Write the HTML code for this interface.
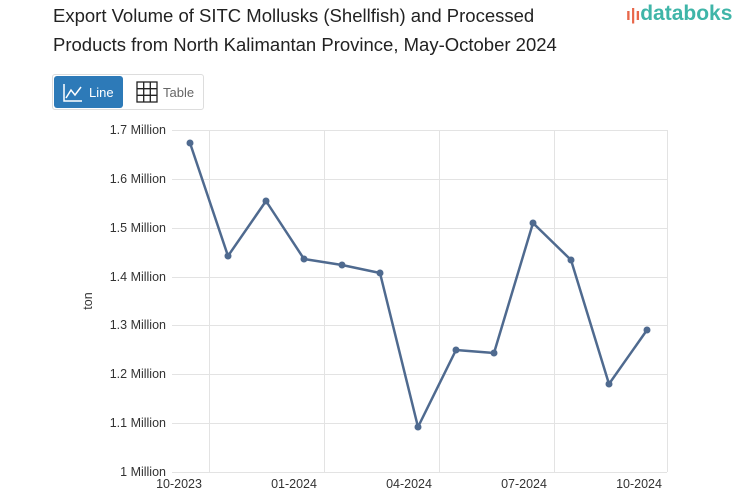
<!DOCTYPE html>
<html><head><meta charset="utf-8"><style>
body{margin:0;width:753px;height:498px;background:#fff;font-family:"Liberation Sans",sans-serif;overflow:hidden;position:relative}
.t{position:absolute;left:53px;top:1px;font-size:18.5px;line-height:29px;color:#222}
.logo{position:absolute;left:626px;top:2px;font-size:21px;color:#3fb5a8;font-weight:bold}
.btns{position:absolute;left:52px;top:74px;width:150px;height:34px;border:1px solid #ddd;border-radius:3px}
.b1{position:absolute;left:1px;top:1px;width:69px;height:32px;background:#2d7ab8;border-radius:3px;color:#fff;font-size:13px}
.b2{position:absolute;left:80px;top:1px;font-size:13px;color:#666}
</style></head><body>
<div class="t">Export Volume of SITC Mollusks (Shellfish) and Processed<br>Products from North Kalimantan Province, May-October 2024</div>
<div class="logo"><span style="color:#e8674a;font-size:17px">ı|ı</span>databoks</div>
<div class="btns">
<div class="b1"><svg width="69" height="32"><path d="M10 8V25H28" stroke="#fff" fill="none" stroke-width="1.5"/><path d="M12 22L17 14L21 19L27 11" stroke="#fff" fill="none" stroke-width="1.5"/><text x="35" y="21" fill="#fff" font-size="13" font-family="Liberation Sans">Line</text></svg></div>
<div class="b2"><svg width="70" height="32"><rect x="4" y="6" width="20" height="20" fill="none" stroke="#222" stroke-width="1.3"/><path d="M4 12.7H24M4 19.3H24M10.7 6V26M17.3 6V26" stroke="#222" stroke-width="1.3"/><text x="30" y="21" fill="#666" font-size="13" font-family="Liberation Sans">Table</text></svg></div>
</div>
<svg width="753" height="498" style="position:absolute;left:0;top:0">
<g stroke="#e3e3e3" stroke-width="1">
<line x1="172" x2="667" y1="130.5" y2="130.5"/><line x1="172" x2="667" y1="179.5" y2="179.5"/><line x1="172" x2="667" y1="228.5" y2="228.5"/><line x1="172" x2="667" y1="277.5" y2="277.5"/><line x1="172" x2="667" y1="325.5" y2="325.5"/><line x1="172" x2="667" y1="374.5" y2="374.5"/><line x1="172" x2="667" y1="423.5" y2="423.5"/><line x1="172" x2="667" y1="472.5" y2="472.5"/>
<line x1="209.5" x2="209.5" y1="130" y2="472"/><line x1="324.5" x2="324.5" y1="130" y2="472"/><line x1="439.5" x2="439.5" y1="130" y2="472"/><line x1="554.5" x2="554.5" y1="130" y2="472"/><line x1="667.5" x2="667.5" y1="130" y2="472"/>
</g>
<g font-size="12.5" fill="#333" text-anchor="end" font-family="Liberation Sans">
<text x="166" y="134">1.7 Million</text><text x="166" y="183">1.6 Million</text><text x="166" y="232">1.5 Million</text><text x="166" y="281">1.4 Million</text><text x="166" y="329">1.3 Million</text><text x="166" y="378">1.2 Million</text><text x="166" y="427">1.1 Million</text><text x="166" y="476">1 Million</text>
</g>
<g font-size="12.5" fill="#333" text-anchor="middle" font-family="Liberation Sans">
<text x="179" y="488">10-2023</text><text x="294" y="488">01-2024</text><text x="409" y="488">04-2024</text><text x="524" y="488">07-2024</text><text x="639" y="488">10-2024</text>
</g>
<text transform="translate(92,301) rotate(-90)" font-size="12.5" fill="#333" text-anchor="middle" font-family="Liberation Sans">ton</text>
<polyline fill="none" stroke="#4f6a8f" stroke-width="2.5" stroke-linejoin="round" points="190,143 228,256 266,201 304,259 342,265 380,273 418,427 456,350 494,353 533,223 571,260 609,384 647,330"/>
<g fill="#4f6a8f">
<circle cx="190" cy="143" r="3.5"/><circle cx="228" cy="256" r="3.5"/><circle cx="266" cy="201" r="3.5"/><circle cx="304" cy="259" r="3.5"/><circle cx="342" cy="265" r="3.5"/><circle cx="380" cy="273" r="3.5"/><circle cx="418" cy="427" r="3.5"/><circle cx="456" cy="350" r="3.5"/><circle cx="494" cy="353" r="3.5"/><circle cx="533" cy="223" r="3.5"/><circle cx="571" cy="260" r="3.5"/><circle cx="609" cy="384" r="3.5"/><circle cx="647" cy="330" r="3.5"/>
</g>
</svg>
</body></html>
